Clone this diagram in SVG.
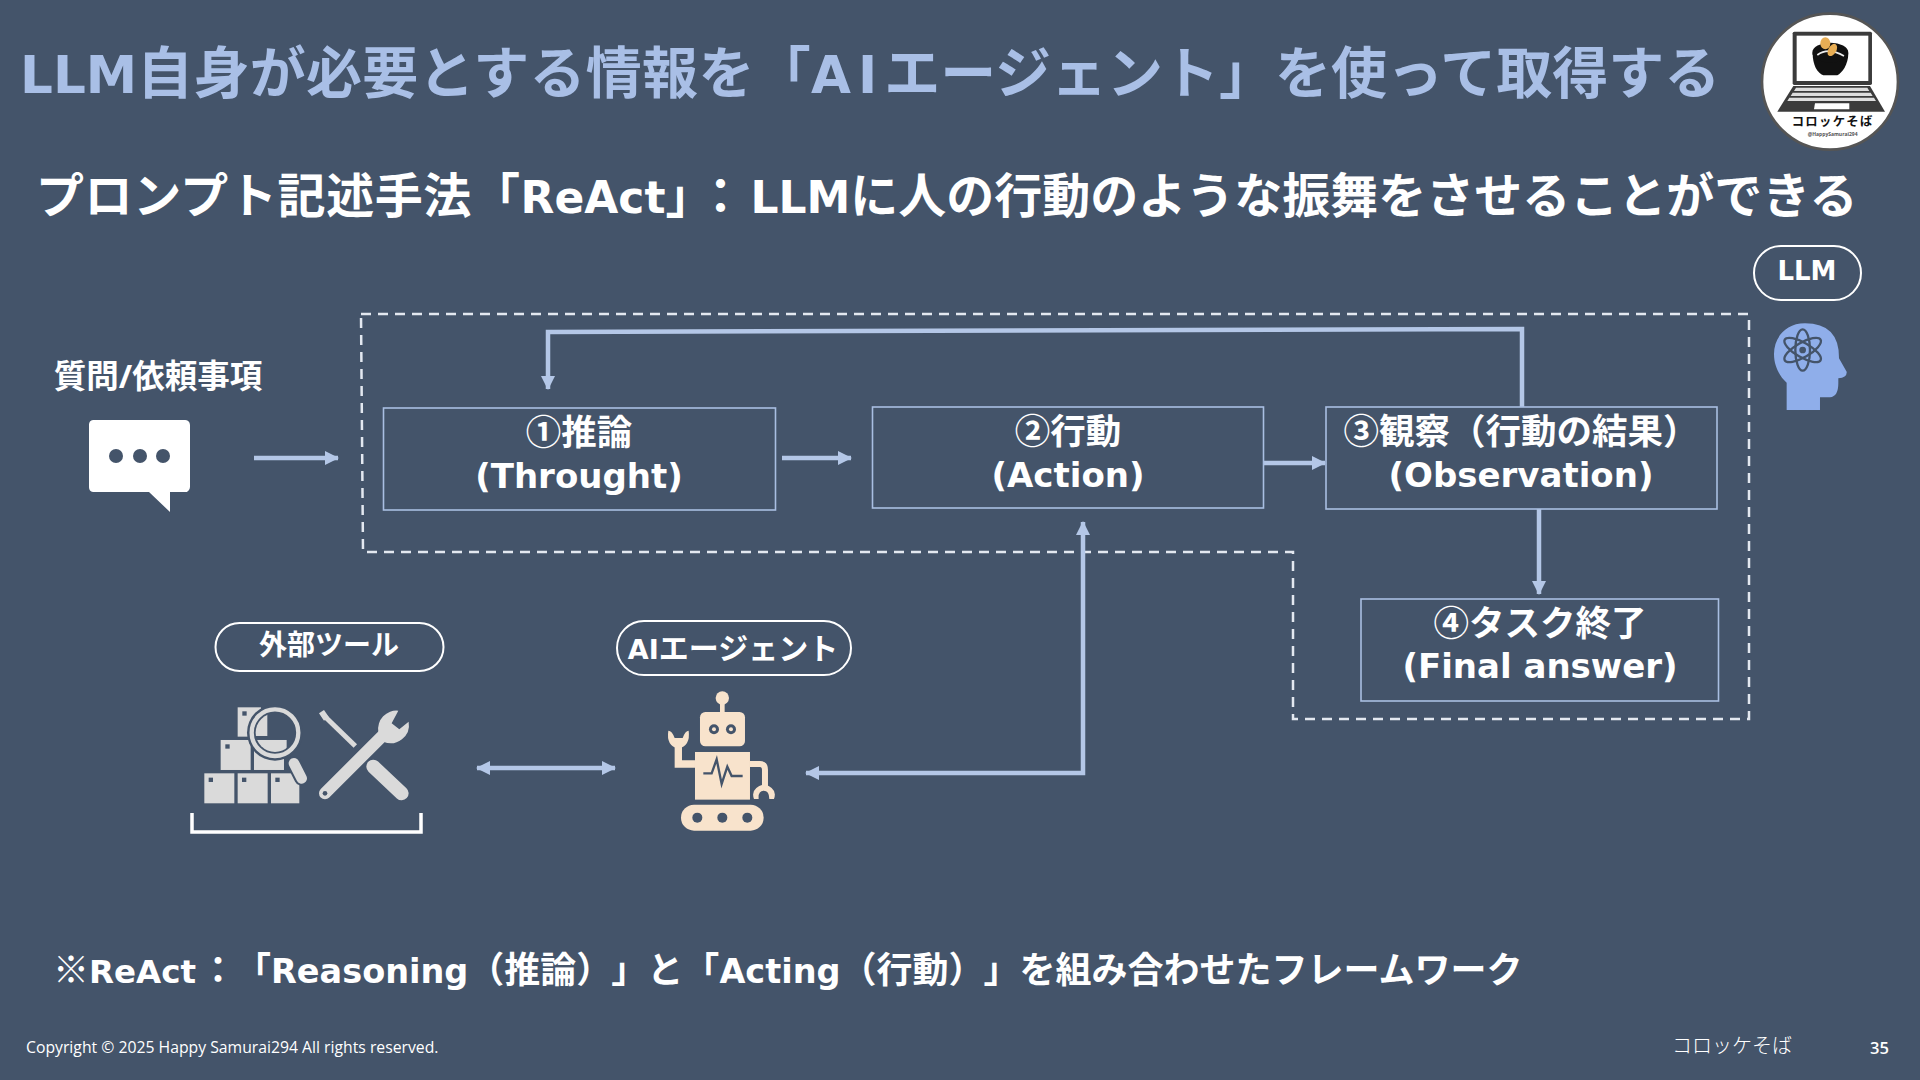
<svg xmlns="http://www.w3.org/2000/svg" width="1920" height="1080" viewBox="0 0 1920 1080">
<style>
text{font-family:"Open Sans","Noto Sans CJK JP",sans-serif;font-weight:700;fill:#fff}
.lat{font-family:"DejaVu Sans",sans-serif;font-weight:700}
.box{fill:none;stroke:#A9BEE2;stroke-width:1.6}
.pill{fill:none;stroke:#fff;stroke-width:2}
.lbl{font-size:35.500px;text-anchor:middle}
.conn{fill:none;stroke:#B4C7E7;stroke-width:4.500}
.mid{text-anchor:middle}
.dash{fill:none;stroke:#E3E8F0;stroke-width:2.500;stroke-dasharray:10 7}
</style>
<defs>
<marker id="ah" viewBox="0 0 14 14" refX="13" refY="7" markerWidth="14" markerHeight="14" markerUnits="userSpaceOnUse" orient="auto-start-reverse"><path d="M0 0L14 7L0 14Z" fill="#B4C7E7"/></marker>
<clipPath id="lens"><circle cx="315" cy="398" r="58"/></clipPath>
</defs>
<rect width="1920" height="1080" fill="#44546A"/>
<text id="title" x="20" y="93" font-size="56" style="fill:#A9BFE6"><tspan class="lat" font-size="51.600" style="fill:#A9BFE6">LLM</tspan><tspan style="letter-spacing:.3px">自身が必要とする情報を「</tspan><tspan class="lat" font-size="51.600" style="fill:#A9BFE6;letter-spacing:7px">AI</tspan>エージェント」を使って取得する</text>
<text id="subtitle" x="36" y="213" font-size="48"><tspan style="letter-spacing:.6px">プロンプト記述手法「</tspan><tspan class="lat" font-size="44">ReAct</tspan>」<tspan dx="7">：</tspan><tspan class="lat" font-size="44" dx="6">LLM</tspan>に人の行動のような振舞をさせることができる</text>

<g id="logo" transform="translate(1700,0) scale(.3333)">
<circle cx="390" cy="245" r="204" fill="#fff" stroke="#555" stroke-width="8"/>
<rect x="278" y="95" width="238" height="160" rx="5" fill="#3B3B3B"/>
<rect x="290" y="107" width="215" height="136" fill="#fff"/>
<path d="M280 258H510L555 335H232Z" fill="#3B3B3B"/>
<path d="M288 263H502L508 273H282ZM278 278H512L518 288H272ZM268 293H522L528 303H262Z" fill="#ddd"/>
<path d="M345 310H448V328H342Z" fill="#fff"/>
<path d="M338 160H445C445 195 425 220 412 226H370C352 220 338 195 338 160Z" fill="#111"/>
<ellipse cx="391" cy="158" rx="54" ry="30" fill="#111"/>
<path d="M352 165Q385 140 432 168" fill="none" stroke="#eee" stroke-width="5"/>
<ellipse cx="376" cy="130" rx="15" ry="18" fill="#E8AE55"/>
<ellipse cx="397" cy="150" rx="12" ry="20" fill="#E8AE55" transform="rotate(30 397 150)"/>
<text x="398" y="377" font-size="37" text-anchor="middle" style="fill:#111;letter-spacing:4px">コロッケそば</text>
<text x="398" y="408" font-size="15" text-anchor="middle" style="fill:#555">@HappySamurai294</text>
</g>

<g id="connectors">
<path class="dash" d="M361 314H1749V719H1293V552H363Z"/>
<path class="conn" marker-end="url(#ah)" d="M254 458H338"/>
<path class="conn" marker-end="url(#ah)" d="M782 458H851"/>
<path class="conn" marker-end="url(#ah)" d="M1264 463H1325"/>
<path class="conn" marker-end="url(#ah)" d="M1522 407V329L548 332V389"/>
<path class="conn" marker-end="url(#ah)" d="M1539 509V594"/>
<path class="conn" marker-start="url(#ah)" marker-end="url(#ah)" d="M1083 522V773H806"/>
<path class="conn" marker-start="url(#ah)" marker-end="url(#ah)" d="M477 768H615"/>
</g>

<g id="input">
<text x="158" y="388" class="mid" font-size="32.500">質問/依頼事項</text>
<path d="M93 420H184A5 5 0 0 1 190 425V487A5 5 0 0 1 184 492H170V512L149 492H93A5 5 0 0 1 89 487V425A5 5 0 0 1 93 420Z" fill="#fff"/>
<circle cx="116" cy="456" r="7" fill="#44546A"/><circle cx="140" cy="456" r="7" fill="#44546A"/><circle cx="163" cy="456" r="7" fill="#44546A"/>
</g>

<g id="step1"><rect class="box" x="383.500" y="408" width="392" height="102"/>
<text class="lbl" x="579" y="445">①推論</text><text class="lbl lat" x="579" y="488" style="font-size:34px">(Throught)</text></g>
<g id="step2"><rect class="box" x="872.500" y="407" width="391" height="101"/>
<text class="lbl" x="1068" y="444">②行動</text><text class="lbl lat" x="1068" y="487" style="font-size:34px">(Action)</text></g>
<g id="step3"><rect class="box" x="1326" y="407" width="391" height="102"/>
<text class="lbl" x="1521" y="444">③観察（行動の結果）</text><text class="lbl lat" x="1521" y="487" style="font-size:34px">(Observation)</text></g>
<g id="step4"><rect class="box" x="1361" y="599" width="357.500" height="102"/>
<text class="lbl" x="1540" y="636">④タスク終了</text><text class="lbl lat" x="1540" y="678" style="font-size:34px">(Final answer)</text></g>

<g id="llm"><rect class="pill" x="1754" y="246" width="107" height="54" rx="27"/>
<text class="mid lat" x="1807" y="280" font-size="26">LLM</text>
<g transform="translate(1720,230) scale(.3333)">
<path d="M200 540H300V502H330Q355 500 355 460V445Q382 442 380 425L357 385Q358 280 255 280C195 280 162 325 162 372C162 410 180 440 200 458Z" fill="#8FAEEA"/>
<g fill="none" stroke="#44546A" stroke-width="7"><ellipse cx="248" cy="360" rx="22" ry="62"/><ellipse cx="248" cy="360" rx="22" ry="62" transform="rotate(60 248 360)"/><ellipse cx="248" cy="360" rx="22" ry="62" transform="rotate(-60 248 360)"/></g>
<circle cx="248" cy="360" r="10" fill="#44546A"/>
</g></g>

<g id="tools"><rect class="pill" x="215.500" y="623" width="228" height="48" rx="24"/>
<text class="mid" x="329" y="655" font-size="28">外部ツール</text>
<g transform="translate(170,600) scale(.3333)">
<g fill="#DADADA"><rect x="103" y="520" width="90" height="90"/><rect x="203" y="520" width="90" height="90"/><rect x="303" y="520" width="85" height="90"/><rect x="152" y="420" width="90" height="90"/><rect x="252" y="430" width="90" height="80"/><rect x="203" y="322" width="70" height="88"/></g>
<g fill="#44546A"><rect x="116" y="533" width="13" height="13"/><rect x="216" y="533" width="13" height="13"/><rect x="316" y="533" width="13" height="13"/><rect x="166" y="433" width="13" height="13"/><rect x="217" y="334" width="13" height="13"/></g>
<circle cx="315" cy="398" r="84" fill="#44546A"/>
<g clip-path="url(#lens)" fill="#DADADA"><rect x="250" y="340" width="42" height="68"/><rect x="250" y="420" width="100" height="40"/></g>
<circle cx="315" cy="398" r="70" fill="none" stroke="#DADADA" stroke-width="13"/>
<path d="M372 490L395 535" stroke="#44546A" stroke-width="44" stroke-linecap="round"/>
<path d="M372 490L395 535" stroke="#DADADA" stroke-width="32" stroke-linecap="round"/>
<path d="M460 345L556 438" stroke="#DADADA" stroke-width="15"/><path d="M447 340L462 330L476 350L462 362Z" fill="#DADADA"/>
<path d="M610 500L695 580" stroke="#DADADA" stroke-width="42" stroke-linecap="round"/>
<path d="M465 580L640 405" stroke="#44546A" stroke-width="46"/>
<path d="M465 580L640 405" stroke="#DADADA" stroke-width="36" stroke-linecap="round"/>
<path d="M685 332A55 55 0 0 0 625 395L640 425A55 55 0 0 0 716 365L688 388L665 370Z" fill="#DADADA"/>
<circle cx="465" cy="580" r="7" fill="#44546A"/>
</g>
<path d="M192 813V832H421V813" fill="none" stroke="#fff" stroke-width="3.500"/>
</g>

<g id="agent"><rect class="pill" x="617" y="621" width="234" height="54" rx="27"/>
<text class="mid" x="733" y="659" font-size="30"><tspan class="lat" font-size="27">AI</tspan>エージェント</text>
<g transform="translate(600,600) scale(.3333)">
<g fill="#F8E3CC">
<circle cx="367" cy="294" r="20"/><rect x="360" y="300" width="14" height="40"/>
<rect x="300" y="336" width="135" height="103" rx="16"/>
<rect x="285" y="456" width="165" height="143"/>
<rect x="243" y="614" width="248" height="78" rx="39"/>
<path d="M235 430V492H285" fill="none" stroke="#F8E3CC" stroke-width="22"/>
<path d="M450 492H480Q495 492 495 510V570" fill="none" stroke="#F8E3CC" stroke-width="18"/>
<path d="M205 392Q198 438 235 445Q272 438 266 392Q256 392 248 414H224Q216 392 205 392Z"/>
<path d="M462 597Q450 565 492 553Q534 565 522 597H508Q508 572 491 572Q474 572 476 597Z"/>
</g>
<g fill="#44546A"><circle cx="342" cy="388" r="15"/><circle cx="393" cy="388" r="15"/><circle cx="292" cy="653" r="15"/><circle cx="367" cy="653" r="15"/><circle cx="442" cy="653" r="15"/></g>
<g fill="#F8E3CC"><circle cx="342" cy="388" r="6"/><circle cx="393" cy="388" r="6"/></g>
<path d="M310 520H335L350 478L365 552L382 500L395 528H428" fill="none" stroke="#44546A" stroke-width="7"/>
</g></g>

<text id="note" x="53" y="983" font-size="36">※<tspan class="lat" font-size="32.500">ReAct</tspan><tspan dx="4">：</tspan><tspan dx="17">「</tspan><tspan class="lat" font-size="33.500">Reasoning</tspan>（推論）<tspan dx="17">」</tspan>と「<tspan class="lat" font-size="33.500">Acting</tspan>（行動）<tspan dx="17">」</tspan>を組み合わせたフレームワーク</text>
<text id="copyright" x="26" y="1053" font-size="15.750" style="font-weight:400;font-family:'Open Sans',sans-serif">Copyright © 2025 Happy Samurai294 All rights reserved.</text>
<text id="footer" x="1672" y="1053" font-size="20" style="font-weight:300;font-family:'Noto Sans CJK JP',sans-serif">コロッケそば</text>
<text id="page" x="1870" y="1054" font-size="16.500" style="font-weight:600">35</text>
</svg>
